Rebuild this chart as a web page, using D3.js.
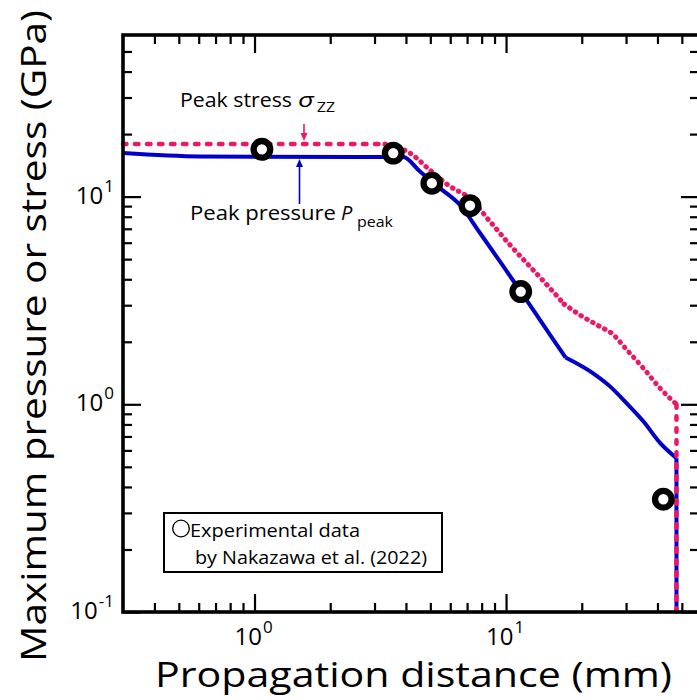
<!DOCTYPE html>
<html>
<head>
<meta charset="utf-8">
<script src="https://cdn.jsdelivr.net/npm/d3@7"></script>
<style>
  body { margin: 0; background: #fff; }
  svg { display: block; }
  text { font-family: "Open Sans", Lato, sans-serif; fill: #000; }
</style>
</head>
<body>
<svg id="chart" width="697" height="700"></svg>
<script>
// Peak stress sigma_zz along the propagation path (mm -> GPa)
const stressDistance = [0.3, 3.30, 4.15, 4.99, 5.99, 7.19, 8.64, 10.37, 12.46, 14.96, 17.0, 19.7, 23.6, 26.4, 30.2, 35.2, 40.96, 47.6, 47.6];
const stressValue    = [17.9, 17.9, 16.2, 13.4, 11.2, 9.8, 7.58, 5.85, 4.60, 3.62, 3.04, 2.69, 2.37, 2.19, 1.83, 1.49, 1.195, 1.0, 0.1];
const stressBreaks   = [17.0];   // slope break (shoulder) of the stress curve

// Peak pressure P_peak along the propagation path (mm -> GPa)
const pressureDistance = [0.3, 0.607, 3.90, 4.55, 5.47, 6.56, 7.88, 9.47, 11.37, 14.96, 17.24, 22.2, 25.9, 30.2, 35.2, 40.96, 47.6, 47.6];
const pressureValue    = [16.2, 15.6, 15.5, 13.2, 10.96, 9.11, 6.68, 4.86, 3.53, 2.16, 1.68, 1.41, 1.22, 1.01, 0.826, 0.652, 0.55, 0.1];
const pressureBreaks   = [17.24];  // kink of the pressure curve

// Experimental data (Nakazawa et al., 2022)
const expDistance = [1.07, 3.56, 5.07, 7.19, 11.44, 42.2];
const expValue    = [16.9, 16.2, 11.6, 9.04, 3.49, 0.349];

// Axis ticks
const xMajorTicks = [1, 10];
const xMinorTicks = [0.4, 0.5, 0.6, 0.7, 0.8, 0.9, 2, 3, 4, 5, 6, 7, 8, 9, 20, 30, 40, 50];
const yMajorTicks = [0.1, 1, 10];
const yMinorTicks = [0.2, 0.3, 0.4, 0.5, 0.6, 0.7, 0.8, 0.9, 2, 3, 4, 5, 6, 7, 8, 9, 20, 30, 40, 50];
const xTickLabels = [{ v: 1, exp: "0" }, { v: 10, exp: "1" }];
const yTickLabels = [{ v: 0.1, exp: "-1" }, { v: 1, exp: "0" }, { v: 10, exp: "1" }];

const BLUE = "#0000c8";
const PINK = "#ec1766";

const svg = d3.select("#chart");
const plotL = 123, plotR = 699, plotT = 35, plotB = 612;

const x = d3.scaleLog().domain([0.3, 58.5]).range([plotL, plotR]);
const y = d3.scaleLog().domain([0.1, 60]).range([plotB, plotT]);

// ---- tick marks (all pointing inward) ----
function ticks(axisFn, pos, values, size) {
  svg.append("g")
    .attr("transform", pos)
    .call(axisFn.tickValues(values).tickSize(-size).tickFormat(""))
    .call(g => g.select(".domain").remove())
    .call(g => g.selectAll(".tick line").attr("stroke", "#000").attr("stroke-width", 2.2));
}
ticks(d3.axisBottom(x), `translate(0,${plotB})`, xMajorTicks, 18);
ticks(d3.axisBottom(x), `translate(0,${plotB})`, xMinorTicks, 9);
ticks(d3.axisTop(x), `translate(0,${plotT})`, xMajorTicks, 18);
ticks(d3.axisTop(x), `translate(0,${plotT})`, xMinorTicks, 9);
ticks(d3.axisLeft(y), `translate(${plotL},0)`, yMajorTicks, 18);
ticks(d3.axisLeft(y), `translate(${plotL},0)`, yMinorTicks, 9);
ticks(d3.axisRight(y), `translate(${plotR},0)`, yMajorTicks, 18);
ticks(d3.axisRight(y), `translate(${plotR},0)`, yMinorTicks, 9);

// ---- tick labels as powers of ten ----
xTickLabels.forEach(t => {
  const tx = svg.append("text")
    .attr("x", x(t.v) - 1).attr("y", plotB + 33)
    .attr("text-anchor", "middle").attr("font-size", 24);
  tx.append("tspan").text("10");
  tx.append("tspan").attr("dy", -12).attr("dx", 1).attr("font-size", 17).text(t.exp);
});
yTickLabels.forEach(t => {
  const ty = svg.append("text")
    .attr("x", 114).attr("y", y(t.v) + 7)
    .attr("text-anchor", "end").attr("font-size", 24);
  ty.append("tspan").text("10");
  ty.append("tspan").attr("dy", -12).attr("dx", 1).attr("font-size", 17).text(t.exp);
});

// ---- axis titles ----
svg.append("text")
  .attr("x", 413.5).attr("y", 687)
  .attr("text-anchor", "middle").attr("font-size", 34)
  .attr("textLength", 517).attr("lengthAdjust", "spacingAndGlyphs")
  .text("Propagation distance (mm)");

svg.append("text")
  .attr("transform", "translate(46,336) rotate(-90)")
  .attr("text-anchor", "middle").attr("font-size", 35)
  .attr("textLength", 652).attr("lengthAdjust", "spacingAndGlyphs")
  .text("Maximum pressure or stress (GPa)");

// ---- curves ----
const smooth = d3.line().curve(d3.curveMonotoneX);
const straight = d3.line();

// split a series into pieces at its breaks and at the vertical drop
function pieces(xs, ys, breaks) {
  const out = [];
  let cur = [];
  xs.forEach((d, i) => {
    const p = [x(d), y(ys[i])];
    if (cur.length && d === xs[i - 1]) {           // vertical drop at the end
      out.push({ pts: cur, curved: true });
      out.push({ pts: [cur[cur.length - 1], p], curved: false });
      cur = [];
      return;
    }
    cur.push(p);
    if (breaks.includes(d)) { out.push({ pts: cur, curved: true }); cur = [p]; }
  });
  if (cur.length > 1) out.push({ pts: cur, curved: true });
  return out;
}

// pressure: solid line
pieces(pressureDistance, pressureValue, pressureBreaks).forEach(pc => {
  svg.append("path")
    .attr("d", (pc.curved ? smooth : straight)(pc.pts))
    .attr("fill", "none").attr("stroke", BLUE).attr("stroke-width", 4)
    .attr("stroke-linejoin", "round");
});

// stress: long segments are dashed, densely sampled stretches are dotted
const stressRuns = [];
pieces(stressDistance, stressValue, stressBreaks).forEach(pc => {
  for (let i = 0; i < pc.pts.length - 1; i++) {
    const a = pc.pts[i], b = pc.pts[i + 1];
    const long = Math.hypot(b[0] - a[0], b[1] - a[1]) > 60;
    const last = stressRuns[stressRuns.length - 1];
    if (last && last.long === long && i > 0) last.pts.push(b);
    else stressRuns.push({ long, pts: [a, b] });
  }
});
stressRuns.forEach(r => {
  svg.append("path")
    .attr("d", r.long ? straight(r.pts) : smooth(r.pts))
    .attr("fill", "none").attr("stroke", PINK)
    .attr("stroke-width", r.long ? 4.5 : 5)
    .attr("stroke-linecap", "round")
    .attr("stroke-dasharray", r.long ? "3.5,8.5" : "0.6,6.2");
});

// ---- frame ----
svg.append("rect")
  .attr("x", plotL).attr("y", plotT)
  .attr("width", plotR - plotL).attr("height", plotB - plotT)
  .attr("fill", "none").attr("stroke", "#000").attr("stroke-width", 3.6);

// ---- experimental points ----
svg.append("g").selectAll("circle")
  .data(expDistance.map((d, i) => [d, expValue[i]]))
  .join("circle")
  .attr("cx", d => x(d[0])).attr("cy", d => y(d[1]))
  .attr("r", 8.3)
  .attr("fill", "#fff").attr("stroke", "#000").attr("stroke-width", 6.3);

// ---- annotations ----
function arrow(xp, y0, y1, color) {
  const dir = Math.sign(y1 - y0);
  svg.append("line")
    .attr("x1", xp).attr("x2", xp).attr("y1", y0).attr("y2", y1 - dir * 6)
    .attr("stroke", color).attr("stroke-width", 1.6);
  svg.append("path")
    .attr("d", `M${xp - 3.5},${y1 - dir * 8}L${xp + 3.5},${y1 - dir * 8}L${xp},${y1}Z`)
    .attr("fill", color);
}
arrow(304, 124, 141, PINK);
arrow(299.5, 204, 159, BLUE);

svg.append("text").attr("x", 180).attr("y", 106.5).attr("font-size", 20)
  .attr("textLength", 112).attr("lengthAdjust", "spacingAndGlyphs").text("Peak stress");
svg.append("text").attr("x", 298).attr("y", 106.5).attr("font-size", 20)
  .attr("font-style", "italic")
  .attr("textLength", 16).attr("lengthAdjust", "spacingAndGlyphs").text("σ");
svg.append("text").attr("x", 317).attr("y", 112).attr("font-size", 14)
  .attr("textLength", 18).attr("lengthAdjust", "spacingAndGlyphs").text("ZZ");

svg.append("text").attr("x", 190).attr("y", 220).attr("font-size", 20)
  .attr("textLength", 146).attr("lengthAdjust", "spacingAndGlyphs").text("Peak pressure");
svg.append("text").attr("x", 341).attr("y", 220).attr("font-size", 20)
  .attr("font-style", "italic").text("P");
svg.append("text").attr("x", 357).attr("y", 226.5).attr("font-size", 14)
  .attr("textLength", 36).attr("lengthAdjust", "spacingAndGlyphs").text("peak");

// ---- legend ----
svg.append("rect")
  .attr("x", 164).attr("y", 513).attr("width", 278).attr("height", 59)
  .attr("fill", "#fff").attr("stroke", "#000").attr("stroke-width", 2);
svg.append("circle")
  .attr("cx", 181).attr("cy", 528.5).attr("r", 8.3)
  .attr("fill", "none").attr("stroke", "#000").attr("stroke-width", 1.3);
svg.append("text").attr("x", 190).attr("y", 536.5).attr("font-size", 18)
  .attr("textLength", 170).attr("lengthAdjust", "spacingAndGlyphs").text("Experimental data");
svg.append("text").attr("x", 195).attr("y", 563.5).attr("font-size", 18)
  .attr("textLength", 232).attr("lengthAdjust", "spacingAndGlyphs").text("by Nakazawa et al. (2022)");
</script>
</body>
</html>
